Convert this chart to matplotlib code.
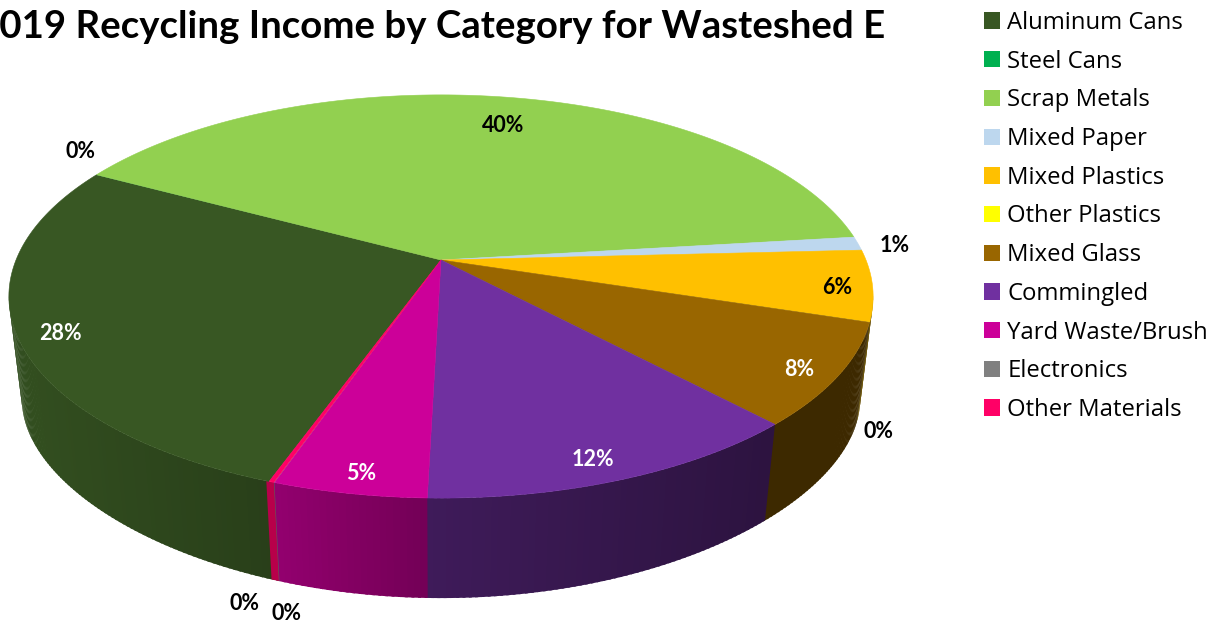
import numpy as np
import matplotlib
matplotlib.use('Agg')
import matplotlib.pyplot as plt
from matplotlib.patches import Patch, Polygon
from matplotlib.colors import to_rgb

# Data
title = '2019 Recycling Income by Category for Wasteshed E'
categories = ['Aluminum Cans', 'Steel Cans', 'Scrap Metals', 'Mixed Paper', 'Mixed Plastics',
              'Other Plastics', 'Mixed Glass', 'Commingled', 'Yard Waste/Brush', 'Electronics',
              'Other Materials']
values = [27.5, 0.02, 40.34, 1.1, 5.7, 0.02, 8.2, 12.4, 4.86, 0.02, 0.16]
colors = ['#385723', '#00B050', '#92D050', '#BDD7EE', '#FFC000', '#FFFF00',
          '#996600', '#7030A0', '#CC0099', '#808080', '#FF0066']
label_colors = ['white', 'black', 'black', 'black', 'black', 'black',
                'white', 'white', 'white', 'black', 'black']
label_x = [60, 81, 503, 895, 837, 879, 799, 593, 361, 245, 287]
label_y = [334, 151, 125, 246, 287, 431, 369, 460, 474, 603, 613]

# Perspective of the pie, in pixels
cx, cy = 441, 260
rx, ry, persp = 425, 195, 0.181
scale_low, cy_low, ry_low, persp_low = 0.97, 367, 168, 0.273
start_angle = 250.4


def project(t, low=False):
    u, v = np.cos(t), np.sin(t)
    if low:
        return cx + scale_low * rx * u / (1 + persp * v), cy_low - ry_low * v / (1 + persp_low * v)
    return cx + rx * u / (1 + persp * v), cy - ry * v / (1 + persp * v)


def side_shade(x):
    return np.interp(x, [22, 272, 429, 767], [0.9, 0.72, 0.56, 0.40])


fig = plt.figure(figsize=(12.28, 6.22), dpi=100)
ax = fig.add_axes([0, 0, 1, 1])
ax.set_xlim(0, 1228)
ax.set_ylim(622, 0)
ax.axis('off')

share = np.array(values) / sum(values) * 2 * np.pi
ends = np.radians(start_angle) - np.cumsum(share)
starts = ends + share

# Side wall first, then the top faces over it
for a0, a1, color in zip(starts, ends, colors):
    ts = np.linspace(a0, a1, max(int(np.degrees(a0 - a1) / 0.7), 2))
    for t0, t1 in zip(ts[:-1], ts[1:]):
        if np.sin((t0 + t1) / 2) > -persp:
            continue
        # small overlap with the next strip so no seams show
        t1 = t1 - 0.006
        x0, y0 = project(t0)
        x1, y1 = project(t1)
        x2, y2 = project(t1, low=True)
        x3, y3 = project(t0, low=True)
        c = np.array(to_rgb(color)) * side_shade((x0 + x1) / 2)
        ax.add_patch(Polygon([(x0, y0), (x1, y1), (x2, y2), (x3, y3)], closed=True,
                             facecolor=c, edgecolor='none'))

for v, a0, a1, color in zip(values, starts, ends, colors):
    ts = np.linspace(a0, a1, max(int(np.degrees(a0 - a1)), 2))
    xs, ys = project(ts)
    pts = [(cx, cy)] + list(zip(xs, ys))
    # near-zero slices stay without an edge, they are not visible in the chart
    edge = color if v >= 0.1 else 'none'
    ax.add_patch(Polygon(pts, closed=True, facecolor=color, edgecolor=edge, linewidth=0.4))

for v, x, y, c in zip(values, label_x, label_y, label_colors):
    ax.text(x, y, f'{round(v)}%', color=c, fontsize=15.5, fontweight='bold', family='Lato',
            ha='center', va='center')

ax.text(885, 27, title, fontsize=27.6, fontweight='bold', family='Lato', ha='right', va='center')

handles = [Patch(facecolor=c, edgecolor='none') for c in colors]
fig.legend(handles, categories, loc='upper left', bbox_to_anchor=(984 / 1228, 1 - 11 / 622),
           frameon=False, borderpad=0, borderaxespad=0, handlelength=0.67, handleheight=0.67,
           handletextpad=0.3, labelspacing=0.615, prop={'family': 'Open Sans', 'size': 17.2})

plt.savefig('out.png', dpi=100)
plt.close()
